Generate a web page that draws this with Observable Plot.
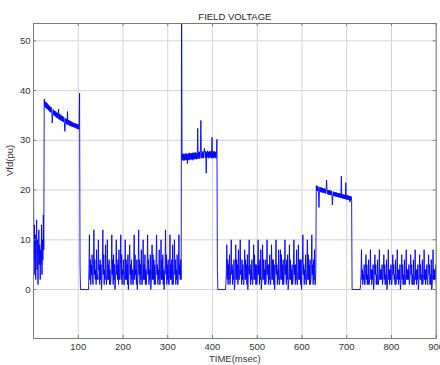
<!DOCTYPE html>
<html><head><meta charset="utf-8">
<script src="https://cdn.jsdelivr.net/npm/d3@7"></script>
<script src="https://cdn.jsdelivr.net/npm/@observablehq/plot@0.6"></script>
<style>html,body{margin:0;padding:0;background:#fff}#chart svg{display:block}</style>
</head><body><div id="chart"></div>
<script>
const title = "FIELD VOLTAGE";
const xLabel = "TIME(msec)";
const yLabel = "Vfd(pu)";
const xTicks = [100, 200, 300, 400, 500, 600, 700, 800, 900];
const yTicks = [0, 10, 20, 30, 40, 50];

// segment A: noise, t = 0..23 msec, 1 msec step
const segAStart = 0, segAStep = 1;
const segA = [22,6,13,3,11,2,9,14,4,10,1,7,12,5,9,2,8,5,13,3,10,6,15,8];

// segment B: high plateau, t = 24..102, 1 msec step
const segBStart = 24, segBStep = 1;
const segB = [
38.3,36.8,37.8,36.6,37.7,36.4,37.5,36.3,37.3,36.1,
37.1,35.9,36.9,35.7,36.7,35.6,36.6,35.4,33.5,35.3,
36.2,35.1,36.0,34.9,35.9,34.8,35.8,34.6,35.6,34.5,
35.5,34.4,36.3,34.2,35.3,34.2,35.2,34.0,35.0,33.9,
34.9,33.8,34.8,33.7,34.6,33.6,31.8,33.5,34.4,33.4,
34.3,33.2,35.8,33.1,34.1,33.1,34.0,32.9,33.9,32.9,
33.8,32.8,33.7,32.7,33.6,32.7,33.5,32.6,33.4,32.5,
33.4,32.4,33.3,32.4,33.2,32.3,33.2,32.2,33.1];

// segment C: noise, t = 123..330, 1 msec step
const segCStart = 123, segCStep = 1;
const segC = [
0,4,11,2,6,1,5,3,7,2, 1,5,12,3,6,2,4,1,8,2, 3,2,10,4,5,1,6,2,5,0,
2,6,12,3,7,1,4,2,9,3, 1,3,10,2,5,2,6,1,4,1, 2,5,11,3,6,1,7,2,5,0,
1,4,10,3,5,2,6,1,8,2, 3,5,11,2,7,1,4,3,6,1, 1,4,10,2,6,2,5,1,7,0,
2,6,9,3,5,1,6,2,4,1, 1,5,11,2,7,3,4,1,6,0, 2,4,12,3,6,1,5,2,8,1,
1,3,10,2,5,2,7,1,4,1, 3,5,11,3,6,1,4,2,7,0, 1,4,9,2,7,2,6,1,5,1,
2,6,11,3,5,1,4,2,8,1, 1,4,10,2,6,2,7,1,4,0, 3,5,12,3,7,1,5,2,6,1,
1,3,11,2,5,2,6,1,9,1, 2,5,10,3,6,1,4,2,7,1, 1,4,11,3,5,2,6,2];

// segment D: high plateau, t = 332..409, 1 msec step
const segDStart = 332, segDStep = 1;
const segD = [
26.0,27.2,26.1,27.3,25.9,27.2,26.0,27.3,26.1,27.4,
26.0,27.3,25.3,27.2,26.1,27.4,26.0,27.5,26.2,27.3,
26.1,27.4,26.2,27.5,26.0,27.4,26.3,27.5,26.2,27.6,
26.3,27.5,26.2,27.4,26.3,32.4,26.4,27.6,26.3,27.7,
26.4,27.6,34.0,27.5,26.4,27.7,26.5,27.8,26.4,27.6,
28.4,27.7,26.5,27.8,23.4,27.6,26.6,27.9,26.5,27.7,
26.4,27.8,26.6,27.7,26.5,27.9,26.4,30.6,26.5,27.8,
26.4,27.7,26.6,27.8,26.5,27.6,26.4,27.7];

// segment E: noise, t = 430..631, 1 msec step
const segEStart = 430, segEStep = 1;
const segE = [
1,4,9,2,6,1,5,2,7,1, 2,5,10,3,5,1,4,2,6,0, 1,3,9,2,6,2,5,1,8,2,
2,5,10,3,4,1,6,2,5,1, 1,4,8,2,6,2,5,1,7,0, 3,5,10,3,5,1,4,2,6,1,
1,4,9,2,7,2,5,1,5,1, 2,5,10,3,5,1,6,2,8,0, 1,3,9,2,6,2,4,1,6,1,
2,5,10,3,5,1,5,2,7,1, 1,4,9,2,6,2,6,1,5,0, 3,5,10,3,5,1,4,2,8,1,
1,4,8,2,7,2,5,1,6,1, 2,5,10,3,5,1,6,2,7,0, 1,3,9,2,6,2,4,1,5,1,
2,5,10,3,5,1,5,2,8,1, 1,4,9,2,6,2,6,1,6,0, 3,5,11,3,5,1,4,2,7,1,
1,4,10,2,7,2,5,1,6,1, 2,5,11,3,5,1,6,2,8,1, 1,4];

// segment F: high plateau, t = 632..711, 1 msec step
const segFStart = 632, segFStep = 1;
const segF = [
20.9,19.9,20.8,19.8,20.7,19.7,16.5,19.8,20.6,19.6,
20.5,19.6,20.5,19.5,20.4,19.5,20.3,19.4,20.3,19.4,
20.2,19.3,20.2,22.0,20.1,19.2,20.0,19.1,20.0,19.1,
19.9,19.0,19.9,19.0,19.8,18.9,17.0,18.9,19.7,18.8,
19.6,18.8,19.6,18.7,19.5,18.7,19.5,18.6,19.4,18.6,
19.4,18.5,19.3,18.5,19.3,18.4,22.8,18.4,19.2,18.3,
19.1,18.3,19.1,18.2,19.0,18.2,21.5,18.1,19.0,18.1,
18.9,18.0,18.9,18.0,18.8,17.6,18.8,17.9,18.7,17.9];

// segment G: noise, t = 731..900, 1 msec step
const segGStart = 731, segGStep = 1;
const segG = [
1,3,8,2,4,1,3,2,5,1, 1,4,7,2,5,1,3,1,6,1, 2,3,8,2,4,1,4,2,5,0,
1,4,7,3,5,1,3,1,6,1, 1,3,8,2,4,2,4,2,5,1, 2,4,7,2,5,1,3,1,6,0,
1,3,8,2,4,1,4,2,5,1, 1,4,7,3,5,2,3,1,6,1, 2,3,8,2,4,1,4,2,5,0,
1,4,7,2,5,1,3,1,6,1, 1,3,8,2,4,2,4,2,5,1, 2,4,7,3,5,1,3,1,6,1,
1,3,8,2,4,1,4,2,5,0, 1,4,7,2,5,2,3,1,6,1, 2,3,8,2,4,1,4,2,5,1,
1,4,7,3,5,1,3,1,6,0, 1,3,8,2,4,2,4,2,5,1];

// switching instants (time msec, value pu)
const edgeT = [103, 104, 105, 122, 331, 410, 411, 412, 429, 712, 730];
const edgeV = [39.5, 5, 0, 0, 60, 30.2, 4, 0, 0, 0, 0];

function seg(start, step, vals) { return vals.map((v, i) => ({t: start + i * step, v})); }
const data = [
  ...seg(segAStart, segAStep, segA),
  ...seg(segBStart, segBStep, segB),
  ...seg(segCStart, segCStep, segC),
  ...seg(segDStart, segDStep, segD),
  ...seg(segEStart, segEStep, segE),
  ...seg(segFStart, segFStep, segF),
  ...seg(segGStart, segGStep, segG),
  ...edgeT.map((t, i) => ({t, v: edgeV[i]}))
].sort((a, b) => a.t - b.t);

const W = 440, H = 365, mL = 33, mR = 4.3, mT = 23, mB = 27;
const fw = W - mL - mR, fh = H - mT - mB;
const axisColor = "#7a7a7a";
const gridColor = "#d3d3db";

const chart = Plot.plot({
  width: W, height: H,
  marginLeft: mL, marginRight: mR, marginTop: mT, marginBottom: mB,
  style: {fontFamily: "'Liberation Sans', Arial, sans-serif", fontSize: "9.5px", color: "#333", background: "#fff"},
  x: {domain: [0, 900]},
  y: {domain: [-9.85, 53.5]},
  marks: [
    Plot.gridX(xTicks, {stroke: gridColor, strokeOpacity: 1}),
    Plot.gridY(yTicks, {stroke: gridColor, strokeOpacity: 1}),
    Plot.line(data, {x: "t", y: "v", stroke: "#0000ff", strokeWidth: 0.9, clip: true}),
    Plot.tickX(xTicks, {x: d => d, stroke: axisColor, insetTop: fh - 3}),
    Plot.tickX(xTicks, {x: d => d, stroke: axisColor, insetBottom: fh - 3}),
    Plot.tickY(yTicks, {y: d => d, stroke: axisColor, insetRight: fw - 3}),
    Plot.tickY(yTicks, {y: d => d, stroke: axisColor, insetLeft: fw - 3}),
    Plot.frame({stroke: axisColor}),
    Plot.axisX(xTicks, {tickSize: 0, tickPadding: 5, label: null}),
    Plot.axisY(yTicks, {tickSize: 0, tickPadding: 3, label: null}),
    Plot.text([title], {text: d => d, frameAnchor: "top", dy: -10, fill: "#222"}),
    Plot.text([xLabel], {text: d => d, frameAnchor: "bottom", dy: 23, fill: "#333"}),
    Plot.text([yLabel], {text: d => d, frameAnchor: "left", dx: -23.5, dy: -5, rotate: -90, fill: "#333"})
  ]
});
document.getElementById("chart").append(chart);
</script>
</body></html>
